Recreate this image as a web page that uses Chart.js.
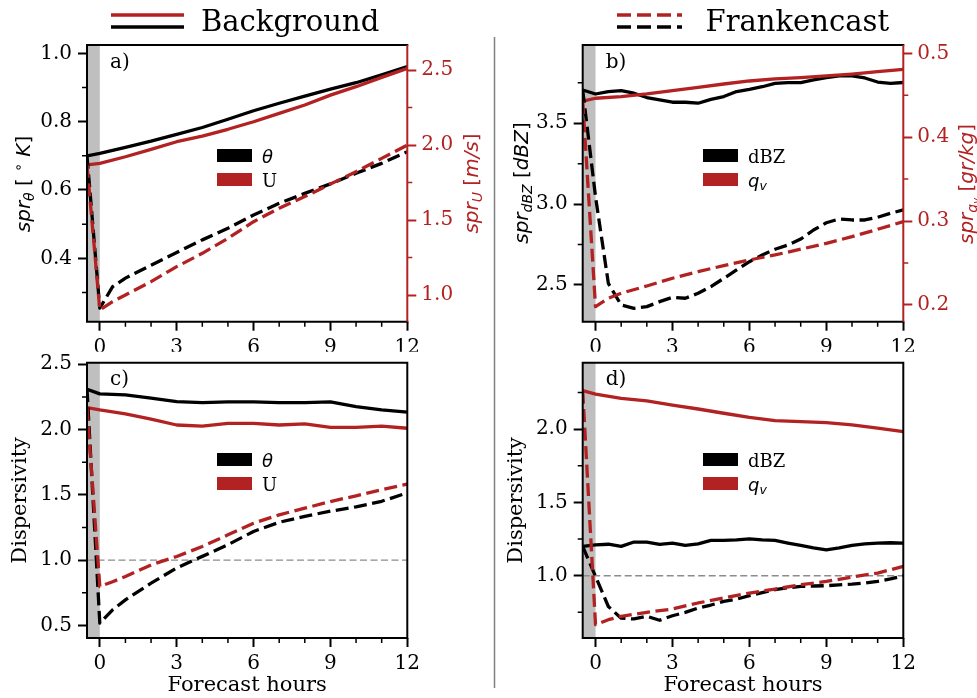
<!DOCTYPE html>
<html>
<head>
<meta charset="utf-8">
<title>Spread and dispersivity: Background vs Frankencast</title>
<script src="https://cdn.jsdelivr.net/npm/chart.js@4.4.1/dist/chart.umd.min.js"></script>
<style>
  html, body { margin: 0; padding: 0; background: #ffffff; }
  #wrap { position: relative; width: 977px; height: 698px; overflow: hidden; background: #ffffff; }
  #wrap canvas { position: absolute; left: 0; top: 0; }
</style>
</head>
<body>
<div id="wrap">
  <canvas id="panelA" width="977" height="698"></canvas>
  <canvas id="panelB" width="977" height="698"></canvas>
  <canvas id="panelC" width="977" height="698"></canvas>
  <canvas id="panelD" width="977" height="698"></canvas>
</div>
<script>
// ---------------------------------------------------------------
// Forecast time axes (hours). The first point (-0.5 h) is the
// pre-forecast analysis inside the shaded spin-up band.
// ---------------------------------------------------------------
const hours     = [-0.5, 0, 1, 2, 3, 4, 5, 6, 7, 8, 9, 10, 11, 12];
const hoursDrop = [-0.5, 0, 0.5, 1, 2, 3, 4, 5, 6, 7, 8, 9, 10, 11, 12];
const hoursFine = [-0.5, 0, 0.5, 1, 1.5, 2, 2.5, 3, 3.5, 4, 4.5, 5, 5.5, 6,
                   6.5, 7, 7.5, 8, 8.5, 9, 9.5, 10, 10.5, 11, 11.5, 12];

// Tick values
const xTicks      = [0, 3, 6, 9, 12];
const xMinorTicks = [1, 2, 4, 5, 7, 8, 10, 11];
const aLeftTicks  = [0.4, 0.6, 0.8, 1.0];
const aLeftMinor  = [0.3, 0.5, 0.7, 0.9];
const aRightTicks = [1.0, 1.5, 2.0, 2.5];
const aRightMinor = [1.25, 1.75, 2.25];
const bLeftTicks  = [2.5, 3.0, 3.5];
const bLeftMinor  = [2.75, 3.25, 3.75];
const bRightTicks = [0.2, 0.3, 0.4, 0.5];
const bRightMinor = [0.25, 0.35, 0.45];
const cTicks      = [0.5, 1.0, 1.5, 2.0, 2.5];
const cMinor      = [0.75, 1.25, 1.75, 2.25];
const dTicks      = [1.0, 1.5, 2.0];
const dMinor      = [0.75, 1.25, 1.75, 2.25];

// Variable names shown in the per-panel keys
const windVars  = ['θ', 'U'];
const moistVars = ['dBZ', 'qv'];

// (a) ensemble spread, theta [K] (left) and U [m/s] (right)
const aBgTheta = [0.700, 0.707, 0.725, 0.743, 0.763, 0.783, 0.807, 0.832, 0.854, 0.875, 0.895, 0.914, 0.937, 0.961];
const aBgU     = [1.867, 1.878, 1.922, 1.971, 2.022, 2.060, 2.105, 2.155, 2.211, 2.267, 2.333, 2.389, 2.451, 2.511];
const aFcTheta = [0.700, 0.254, 0.317, 0.342, 0.380, 0.417, 0.454, 0.488, 0.527, 0.561, 0.590, 0.618, 0.649, 0.678, 0.712];
const aFcU     = [1.867, 0.900, 0.956, 1.000, 1.089, 1.189, 1.278, 1.378, 1.489, 1.578, 1.656, 1.740, 1.822, 1.911, 2.000];

// (b) ensemble spread, reflectivity [dBZ] (left) and qv [g/kg] (right)
const bBgDbz = [3.706, 3.681, 3.696, 3.702, 3.686, 3.659, 3.644, 3.630, 3.630, 3.624, 3.648, 3.665, 3.696,
                3.710, 3.726, 3.747, 3.751, 3.751, 3.768, 3.782, 3.793, 3.793, 3.780, 3.755, 3.747, 3.752];
const bBgQv  = [0.4431, 0.4464, 0.4483, 0.4515, 0.4554, 0.4595, 0.4634, 0.4670, 0.4694, 0.4710, 0.4730, 0.4753, 0.4781, 0.4809];
const bFcDbz = [3.706, 3.046, 2.510, 2.376, 2.356, 2.366, 2.397, 2.424, 2.418, 2.449, 2.490, 2.541, 2.593,
                2.644, 2.686, 2.721, 2.747, 2.784, 2.840, 2.885, 2.908, 2.902, 2.902, 2.919, 2.943, 2.964];
const bFcQv  = [0.4431, 0.1980, 0.2080, 0.2139, 0.2226, 0.2318, 0.2397, 0.2469, 0.2536, 0.2596, 0.2664, 0.2735, 0.2814, 0.2902, 0.2993];

// (c) dispersivity, theta and U
const cBgTheta = [2.309, 2.273, 2.265, 2.240, 2.214, 2.207, 2.212, 2.212, 2.207, 2.207, 2.212, 2.176, 2.150, 2.133];
const cBgU     = [2.168, 2.150, 2.120, 2.080, 2.035, 2.027, 2.048, 2.048, 2.035, 2.043, 2.017, 2.017, 2.027, 2.010];
const cFcTheta = [2.309, 0.518, 0.620, 0.696, 0.824, 0.940, 1.029, 1.118, 1.220, 1.290, 1.336, 1.375, 1.408, 1.451, 1.515];
const cFcU     = [2.168, 0.798, 0.835, 0.875, 0.964, 1.028, 1.105, 1.194, 1.283, 1.347, 1.398, 1.449, 1.493, 1.539, 1.582];

// (d) dispersivity, dBZ and qv
const dBgQv  = [2.263, 2.240, 2.211, 2.193, 2.165, 2.138, 2.109, 2.081, 2.059, 2.052, 2.045, 2.029, 2.007, 1.984];
const dBgDbz = [1.200, 1.211, 1.215, 1.200, 1.230, 1.230, 1.214, 1.223, 1.207, 1.218, 1.241, 1.241, 1.245,
                1.252, 1.245, 1.241, 1.223, 1.207, 1.190, 1.177, 1.190, 1.207, 1.218, 1.223, 1.225, 1.223];
const dFcDbz = [1.200, 0.995, 0.790, 0.710, 0.705, 0.723, 0.696, 0.727, 0.750, 0.779, 0.800, 0.825, 0.840,
                0.864, 0.885, 0.905, 0.918, 0.927, 0.930, 0.932, 0.938, 0.943, 0.950, 0.961, 0.978, 1.000];
const dFcQv  = [2.263, 0.666, 0.700, 0.723, 0.750, 0.773, 0.814, 0.848, 0.882, 0.909, 0.939, 0.961, 0.991, 1.018, 1.064];

// Dispersivity of a perfectly calibrated ensemble
const perfectDispersivity = 1.0;

// ---------------------------------------------------------------
// Styling
// ---------------------------------------------------------------
const BLACK = '#000000';
const RED   = '#b22222';
const BAND  = '#bfbfbf';
const REFC  = '#8c8c8c';
const SERIF = "'DejaVu Serif', 'Liberation Serif', serif";
const SANS  = "'DejaVu Sans', 'Liberation Sans', sans-serif";
const LINE_W = 3.3;
const DASH = [13, 5.5];
const W = 977, H = 698;

Chart.defaults.font.family = SERIF;
Chart.defaults.color = BLACK;

function line(label, xs, ys, color, dashed, axis, order) {
  return {
    label: label,
    data: xs.map((x, i) => ({ x: x, y: ys[i] })),
    borderColor: color,
    backgroundColor: color,
    borderWidth: LINE_W,
    borderDash: dashed ? DASH : [],
    borderCapStyle: 'butt',
    borderJoinStyle: 'round',
    pointRadius: 0,
    pointHoverRadius: 0,
    fill: false,
    tension: 0,
    yAxisID: axis,
    order: order
  };
}

function refLine(axis) {
  return {
    label: 'dispersivity = 1',
    data: [{ x: -0.5, y: perfectDispersivity }, { x: 12, y: perfectDispersivity }],
    borderColor: REFC,
    borderWidth: 1.3,
    borderDash: [7, 3.5],
    pointRadius: 0,
    fill: false,
    yAxisID: axis,
    order: 10
  };
}

function fontStr(p, base) {
  const fam = p.serif ? SERIF : SANS;
  return (p.it ? 'italic ' : '') + (p.size || base) + 'px ' + fam;
}

// Draws a run of text pieces (sub/superscripts via size and dy), centred on (x, y)
function drawRich(ctx, parts, x, y, rot, color, base, align) {
  ctx.save();
  ctx.translate(x, y);
  ctx.rotate(rot);
  ctx.fillStyle = color;
  ctx.textBaseline = 'alphabetic';
  ctx.textAlign = 'left';
  let total = 0;
  const widths = parts.map(p => { ctx.font = fontStr(p, base); const w = ctx.measureText(p.t).width; total += w; return w; });
  let cx = align === 'left' ? 0 : -total / 2;
  parts.forEach((p, i) => { ctx.font = fontStr(p, base); ctx.fillText(p.t, cx, p.dy || 0); cx += widths[i]; });
  ctx.restore();
}

function legendParts(name) {
  if (name === 'θ') return [{ t: 'θ', it: true }];
  if (name === 'qv') return [{ t: 'q', it: true }, { t: 'v', it: true, size: 12.5, dy: 3 }];
  return [{ t: name, serif: true }];
}

function decorations(p) {
  return {
    id: 'decor_' + p.id,
    beforeDatasetsDraw(chart) {
      const { ctx, chartArea: a, scales } = chart;
      const x0 = scales.x.getPixelForValue(-0.5);
      const x1 = scales.x.getPixelForValue(0);
      ctx.save();
      ctx.fillStyle = BAND;
      ctx.fillRect(x0, a.top, x1 - x0, a.bottom - a.top);
      ctx.restore();
    },
    afterDatasetsDraw(chart) {
      const { ctx, chartArea: a, scales } = chart;
      ctx.save();
      // frame
      ctx.lineWidth = 2;
      ctx.lineCap = 'square';
      ctx.strokeStyle = BLACK;
      ctx.beginPath();
      ctx.moveTo(a.left, a.bottom); ctx.lineTo(a.left, a.top);
      ctx.moveTo(a.left, a.top); ctx.lineTo(a.right, a.top);
      ctx.moveTo(a.left, a.bottom); ctx.lineTo(a.right, a.bottom);
      if (!p.yR) { ctx.moveTo(a.right, a.top); ctx.lineTo(a.right, a.bottom); }
      ctx.stroke();
      if (p.yR) {
        ctx.strokeStyle = RED;
        ctx.lineCap = 'butt';
        ctx.beginPath();
        ctx.moveTo(a.right, a.top); ctx.lineTo(a.right, a.bottom);
        ctx.stroke();
      }
      // minor ticks
      ctx.lineWidth = 1.5;
      ctx.lineCap = 'butt';
      ctx.strokeStyle = BLACK;
      ctx.beginPath();
      xMinorTicks.forEach(v => { const px = scales.x.getPixelForValue(v); ctx.moveTo(px, a.bottom); ctx.lineTo(px, a.bottom + 5); });
      p.yL.minor.forEach(v => { const py = scales.y.getPixelForValue(v); ctx.moveTo(a.left - 5, py); ctx.lineTo(a.left, py); });
      ctx.stroke();
      if (p.yR) {
        ctx.strokeStyle = RED;
        ctx.beginPath();
        p.yR.minor.forEach(v => { const py = scales.y2.getPixelForValue(v); ctx.moveTo(a.right, py); ctx.lineTo(a.right + 5, py); });
        ctx.stroke();
      }
      ctx.restore();
    },
    afterDraw(chart) {
      const { ctx, chartArea: a } = chart;
      // panel tag
      ctx.save();
      ctx.fillStyle = BLACK;
      ctx.font = '20px ' + SERIF;
      ctx.textBaseline = 'alphabetic';
      ctx.fillText(p.tag, a.left + 23, a.top + 22.5);
      ctx.restore();
      // key of variables
      const lg = p.legend;
      lg.names.forEach((name, i) => {
        const top = lg.y + i * 24;
        ctx.save();
        ctx.fillStyle = i === 0 ? BLACK : RED;
        ctx.fillRect(lg.x, top, 35, 13);
        ctx.restore();
        drawRich(ctx, legendParts(name), lg.x + 45, top + 13.5, 0, BLACK, 18, 'left');
      });
      // axis titles with sub/superscripts
      if (p.titleL) drawRich(ctx, p.titleL.parts, p.titleL.x, p.titleL.y, -Math.PI / 2, BLACK, 20);
      if (p.titleR) drawRich(ctx, p.titleR.parts, p.titleR.x, p.titleR.y, -Math.PI / 2, RED, 20);
      if (p.header) {
        const h = p.header;
        ctx.save();
        ctx.lineWidth = 3.3;
        ctx.lineCap = 'butt';
        ctx.setLineDash(h.dashed ? [14, 6] : []);
        ctx.strokeStyle = RED;
        ctx.beginPath(); ctx.moveTo(h.x0, 15); ctx.lineTo(h.x1, 15); ctx.stroke();
        ctx.strokeStyle = BLACK;
        ctx.beginPath(); ctx.moveTo(h.x0, 27); ctx.lineTo(h.x1, 27); ctx.stroke();
        ctx.setLineDash([]);
        ctx.fillStyle = BLACK;
        ctx.font = '29px ' + SERIF;
        ctx.textBaseline = 'alphabetic';
        ctx.fillText(h.text, h.tx, 30.7);
        if (h.separator) {
          ctx.strokeStyle = '#808080';
          ctx.lineWidth = 1.5;
          ctx.beginPath(); ctx.moveTo(494.5, 37); ctx.lineTo(494.5, 688); ctx.stroke();
        }
        ctx.restore();
      }
    }
  };
}

function tickFmt(v) { return Number(v).toFixed(1); }

function buildChart(p) {
  const scales = {
    x: {
      type: 'linear', position: 'bottom', min: -0.5, max: 12,
      afterBuildTicks: s => { s.ticks = xTicks.map(v => ({ value: v })); },
      afterFit: s => { s.height = p.xH; },
      ticks: { color: BLACK, font: { family: SERIF, size: 20 }, padding: 5, maxRotation: 0, autoSkip: false,
               callback: v => String(v) },
      grid: { display: true, drawOnChartArea: false, drawTicks: true, tickLength: 9, tickWidth: 2, tickColor: BLACK },
      border: { display: false },
      title: p.xTitle ? { display: true, text: p.xTitle, color: BLACK, font: { family: SERIF, size: 21, lineHeight: 1.2 }, padding: 0 }
                      : { display: false }
    },
    y: {
      type: 'linear', position: 'left', min: p.yL.min, max: p.yL.max,
      afterBuildTicks: s => { s.ticks = p.yL.major.map(v => ({ value: v })); },
      afterFit: s => { s.width = p.wL; },
      ticks: { color: BLACK, font: { family: SERIF, size: 20 }, padding: 6, autoSkip: false, callback: tickFmt },
      grid: { display: true, drawOnChartArea: false, drawTicks: true, tickLength: 9, tickWidth: 2, tickColor: BLACK },
      border: { display: false },
      title: p.yTitle ? { display: true, text: p.yTitle, color: BLACK, font: { family: SERIF, size: 21, lineHeight: 1.2 }, padding: 0 }
                      : { display: false }
    }
  };
  if (p.yR) {
    scales.y2 = {
      type: 'linear', position: 'right', min: p.yR.min, max: p.yR.max,
      afterBuildTicks: s => { s.ticks = p.yR.major.map(v => ({ value: v })); },
      afterFit: s => { s.width = p.wR; },
      ticks: { color: RED, font: { family: SERIF, size: 20 }, padding: 5, autoSkip: false, callback: tickFmt },
      grid: { display: true, drawOnChartArea: false, drawTicks: true, tickLength: 9, tickWidth: 2, tickColor: RED },
      border: { display: false }
    };
  }
  const area = p.area;
  const padding = {
    left: area.l - p.wL,
    top: area.t,
    right: W - area.r - (p.yR ? p.wR : 0),
    bottom: Math.max(0, H - area.b - p.xH)
  };
  return new Chart(document.getElementById(p.id), {
    type: 'line',
    data: { datasets: p.datasets },
    options: {
      responsive: false,
      animation: false,
      devicePixelRatio: 1,
      events: [],
      layout: { padding: padding },
      scales: scales,
      plugins: { legend: { display: false }, tooltip: { enabled: false }, title: { display: false } }
    },
    plugins: [decorations(p)]
  });
}

const panelSpecs = [
  {
    id: 'panelA', tag: 'a)',
    area: { l: 87, t: 45, r: 407.3, b: 321.7 }, wL: 60, wR: 60, xH: 30,
    yL: { min: 0.2145, max: 1.0244, major: aLeftTicks, minor: aLeftMinor },
    yR: { min: 0.822, max: 2.667, major: aRightTicks, minor: aRightMinor },
    datasets: [
      line('Background θ', hours, aBgTheta, BLACK, false, 'y', 4),
      line('Background U', hours, aBgU, RED, false, 'y2', 3),
      line('Frankencast θ', hoursDrop, aFcTheta, BLACK, true, 'y', 2),
      line('Frankencast U', hoursDrop, aFcU, RED, true, 'y2', 1)
    ],
    legend: { x: 217, y: 149, names: windVars },
    titleL: { x: 29.5, y: 184, parts: [{ t: 'spr', it: true }, { t: 'θ', it: true, size: 14, dy: 4 }, { t: ' [ ' },
              { t: '∘', size: 14, dy: -7 }, { t: ' ' }, { t: 'K', it: true }, { t: ']' }] },
    titleR: { x: 477.5, y: 183.5, parts: [{ t: 'spr', it: true }, { t: 'U', it: true, size: 14, dy: 4 }, { t: ' [' },
              { t: 'm/s', it: true }, { t: ']' }] },
    header: { text: 'Background', x0: 111, x1: 184, tx: 201, dashed: false, separator: true }
  },
  {
    id: 'panelB', tag: 'b)',
    area: { l: 582.7, t: 45, r: 903.3, b: 321.7 }, wL: 60, wR: 60, xH: 30,
    yL: { min: 2.273, max: 3.984, major: bLeftTicks, minor: bLeftMinor },
    yR: { min: 0.180, max: 0.5099, major: bRightTicks, minor: bRightMinor },
    datasets: [
      line('Background dBZ', hoursFine, bBgDbz, BLACK, false, 'y', 4),
      line('Background qv', hours, bBgQv, RED, false, 'y2', 3),
      line('Frankencast dBZ', hoursFine, bFcDbz, BLACK, true, 'y', 2),
      line('Frankencast qv', hoursDrop, bFcQv, RED, true, 'y2', 1)
    ],
    legend: { x: 703, y: 149, names: moistVars },
    titleL: { x: 527.5, y: 183, parts: [{ t: 'spr', it: true }, { t: 'dBZ', it: true, size: 14, dy: 4 }, { t: ' [' },
              { t: 'dBZ', it: true }, { t: ']' }] },
    titleR: { x: 973, y: 184, parts: [{ t: 'spr', it: true }, { t: 'q', it: true, size: 14, dy: 4 }, { t: 'v', it: true, size: 10, dy: 7 },
              { t: ' [' }, { t: 'gr/kg', it: true }, { t: ']' }] },
    header: { text: 'Frankencast', x0: 617, x1: 682, tx: 705.6, dashed: true, separator: false }
  },
  {
    id: 'panelC', tag: 'c)',
    area: { l: 87, t: 362.7, r: 407.3, b: 638 }, wL: 79, xH: 60,
    yL: { min: 0.404, max: 2.512, major: cTicks, minor: cMinor },
    yTitle: 'Dispersivity', xTitle: 'Forecast hours',
    datasets: [
      refLine('y'),
      line('Background θ', hours, cBgTheta, BLACK, false, 'y', 4),
      line('Background U', hours, cBgU, RED, false, 'y', 3),
      line('Frankencast θ', hoursDrop, cFcTheta, BLACK, true, 'y', 2),
      line('Frankencast U', hoursDrop, cFcU, RED, true, 'y', 1)
    ],
    legend: { x: 217, y: 453, names: windVars }
  },
  {
    id: 'panelD', tag: 'd)',
    area: { l: 582.7, t: 362.7, r: 903.3, b: 638 }, wL: 79, xH: 60,
    yL: { min: 0.575, max: 2.454, major: dTicks, minor: dMinor },
    yTitle: 'Dispersivity', xTitle: 'Forecast hours',
    datasets: [
      refLine('y'),
      line('Background dBZ', hoursFine, dBgDbz, BLACK, false, 'y', 4),
      line('Background qv', hours, dBgQv, RED, false, 'y', 3),
      line('Frankencast dBZ', hoursFine, dFcDbz, BLACK, true, 'y', 2),
      line('Frankencast qv', hoursDrop, dFcQv, RED, true, 'y', 1)
    ],
    legend: { x: 703, y: 453, names: moistVars }
  }
];

panelSpecs.forEach(buildChart);
</script>
</body>
</html>
